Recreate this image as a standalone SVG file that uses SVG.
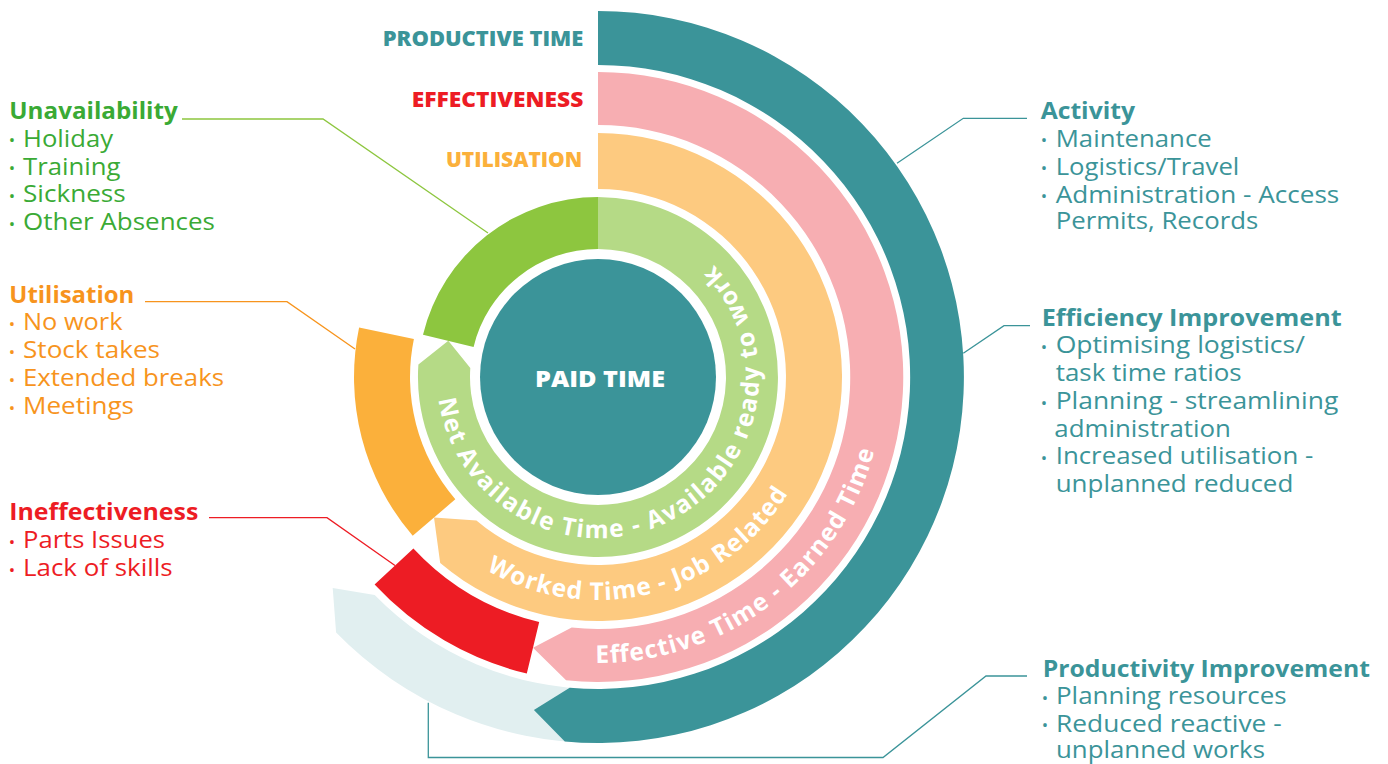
<svg xmlns="http://www.w3.org/2000/svg" width="1388" height="764" viewBox="0 0 1388 764">
  <defs>
    <style>
      text { font-family: "Open Sans", "Liberation Sans", sans-serif; }
      .hd { font-weight: 700; font-size: 23.5px; }
      .it { font-size: 23.5px; }
      .bl { font-size: 17px; text-anchor: middle; }
      .arc-label { font-weight: 700; font-size: 24.5px; fill: #ffffff; }
      .top { font-weight: 800; font-size: 20.5px; }
      .c-teal { fill: #3B9499; }
      .c-green { fill: #3AAA35; }
      .c-orange { fill: #F7941D; }
      .c-red { fill: #ED1C24; }
      .c-amber { fill: #FBB03B; }
      .conn { fill: none; stroke-width: 1.3; }
    </style>
    <!-- baselines for the curved ring captions, running anticlockwise -->
    <path id="arc-net" d="M438.6,399.4 A161,161 0 1 0 701.5,253.7"/>
    <path id="arc-worked" d="M486.5,570.1 A223,223 0 0 0 807.5,453.3"/>
    <path id="arc-effective" d="M595.5,663 A286,286 0 0 0 882.9,401.9"/>
  </defs>

  <!-- faint continuation band behind the productive ring -->
  <g id="band-ghost">
    <path d="M598,743 A366,366 0 0 1 336.1,632.6 L332.7,588 L374.7,594.9 A312,312 0 0 0 598,689 Z" fill="#E1EFF0"/>
  </g>

  <!-- outer ring: productive time -->
  <g id="ring-productive">
    <path d="M598,11 A366,366 0 1 1 564.8,741.5 L533.9,709.9 L569.7,687.7 A312,312 0 1 0 598,65 Z" fill="#3B9499"/>
  </g>

  <!-- ring: effective time -->
  <g id="ring-effective">
    <path d="M598,72 A305,305 0 1 1 566.1,680.3 L533,647.8 L571.7,627.6 A252,252 0 1 0 598,125 Z" fill="#F7AEB2"/>
    <text class="arc-label"><textPath href="#arc-effective" textLength="377" lengthAdjust="spacing">Effective Time - Earned Time</textPath></text>
  </g>

  <g id="loss-ineffectiveness">
    <path d="M526.8,673.6 A305,305 0 0 1 374.6,584.6 L413.4,548.5 A252,252 0 0 0 539.2,622 Z" fill="#ED1C24"/>
  </g>

  <!-- ring: worked time -->
  <g id="ring-worked">
    <path d="M598,133 A244,244 0 1 1 440.2,563.1 L434,517.6 L476.4,520.4 A188,188 0 1 0 598,189 Z" fill="#FDCA80"/>
    <text class="arc-label"><textPath href="#arc-worked" textLength="344" lengthAdjust="spacing">Worked Time - Job Related</textPath></text>
  </g>

  <g id="loss-utilisation">
    <path d="M412.7,535.8 A244,244 0 0 1 359.1,327.5 L413.9,338.9 A188,188 0 0 0 455.3,499.3 Z" fill="#FBB03B"/>
  </g>

  <!-- ring: net available time -->
  <g id="ring-available">
    <path d="M598,197 A180,180 0 1 1 418.4,364.4 L448.3,340.8 L470.3,368.1 A128,128 0 1 0 598,249 Z" fill="#B5DA86"/>
    <text class="arc-label"><textPath href="#arc-net" textLength="607" lengthAdjust="spacing">Net Available Time - Available ready to work</textPath></text>
  </g>

  <g id="loss-unavailability">
    <path d="M423,334.7 A180,180 0 0 1 598,197 L598,249 A128,128 0 0 0 473.6,346.9 Z" fill="#8DC63F"/>
  </g>

  <g id="paid-time">
    <circle cx="598" cy="377" r="118" fill="#3B9499"/>
    <text x="535" y="386.7" font-weight="800" font-size="22.5" fill="#ffffff" textLength="130" lengthAdjust="spacingAndGlyphs">PAID TIME</text>
  </g>

  <!-- ring titles -->
  <g id="title-productive">
    <text class="top c-teal" x="382.7" y="46" textLength="200.6" lengthAdjust="spacingAndGlyphs">PRODUCTIVE TIME</text>
  </g>
  <g id="title-effectiveness">
    <text class="top c-red" x="411.7" y="107.3" textLength="171.6" lengthAdjust="spacingAndGlyphs">EFFECTIVENESS</text>
  </g>
  <g id="title-utilisation">
    <text class="top c-amber" x="446" y="166.7" textLength="136.3" lengthAdjust="spacingAndGlyphs">UTILISATION</text>
  </g>

  <!-- leader lines -->
  <g id="connectors">
    <path class="conn" stroke="#8DC63F" d="M182,119 H323 L488,233"/>
    <path class="conn" stroke="#F7941D" d="M145,301.7 H287 L355,349"/>
    <path class="conn" stroke="#ED1C24" d="M209,517.7 H327 L395,565.5"/>
    <path class="conn" stroke="#3B9499" d="M897,163.3 L963.3,118.3 H1027"/>
    <path class="conn" stroke="#3B9499" d="M963.3,353.3 L1004,325.7 H1030"/>
    <path class="conn" stroke="#3B9499" d="M428.3,702.7 V757.5 H883 L986,676 H1027"/>
  </g>

  <!-- left-hand notes -->
  <g id="label-unavailability" class="c-green">
    <text class="hd" x="9.3" y="119.3" textLength="168.4" lengthAdjust="spacingAndGlyphs">Unavailability</text>
    <text class="bl" x="12" y="146.2">•</text><text class="it" x="23" y="146.7" textLength="90" lengthAdjust="spacingAndGlyphs">Holiday</text>
    <text class="bl" x="12" y="174">•</text><text class="it" x="23" y="174.5" textLength="97.5" lengthAdjust="spacingAndGlyphs">Training</text>
    <text class="bl" x="12" y="201.8">•</text><text class="it" x="23" y="202.3" textLength="102.7" lengthAdjust="spacingAndGlyphs">Sickness</text>
    <text class="bl" x="12" y="229.6">•</text><text class="it" x="23" y="230.1" textLength="192" lengthAdjust="spacingAndGlyphs">Other Absences</text>
  </g>

  <g id="label-utilisation" class="c-orange">
    <text class="hd" x="9.3" y="302.5" textLength="125" lengthAdjust="spacingAndGlyphs">Utilisation</text>
    <text class="bl" x="12" y="329.5">•</text><text class="it" x="23" y="330" textLength="99.5" lengthAdjust="spacingAndGlyphs">No work</text>
    <text class="bl" x="12" y="357.5">•</text><text class="it" x="23" y="358" textLength="137" lengthAdjust="spacingAndGlyphs">Stock takes</text>
    <text class="bl" x="12" y="385.5">•</text><text class="it" x="23" y="386" textLength="201" lengthAdjust="spacingAndGlyphs">Extended breaks</text>
    <text class="bl" x="12" y="413.5">•</text><text class="it" x="23" y="414" textLength="111" lengthAdjust="spacingAndGlyphs">Meetings</text>
  </g>

  <g id="label-ineffectiveness" class="c-red">
    <text class="hd" x="9.3" y="520" textLength="189" lengthAdjust="spacingAndGlyphs">Ineffectiveness</text>
    <text class="bl" x="12" y="547.5">•</text><text class="it" x="23" y="548" textLength="142" lengthAdjust="spacingAndGlyphs">Parts Issues</text>
    <text class="bl" x="12" y="575.5">•</text><text class="it" x="23" y="576" textLength="149.7" lengthAdjust="spacingAndGlyphs">Lack of skills</text>
  </g>

  <!-- right-hand notes -->
  <g id="label-activity" class="c-teal">
    <text class="hd" x="1040.7" y="119" textLength="94.3" lengthAdjust="spacingAndGlyphs">Activity</text>
    <text class="bl" x="1044" y="146.2">•</text><text class="it" x="1055.7" y="146.7" textLength="156" lengthAdjust="spacingAndGlyphs">Maintenance</text>
    <text class="bl" x="1044" y="174.2">•</text><text class="it" x="1055.7" y="174.7" textLength="183.6" lengthAdjust="spacingAndGlyphs">Logistics/Travel</text>
    <text class="bl" x="1044" y="202.2">•</text><text class="it" x="1055.7" y="202.7" textLength="283.6" lengthAdjust="spacingAndGlyphs">Administration - Access</text>
    <text class="it" x="1055.7" y="229.3" textLength="202.6" lengthAdjust="spacingAndGlyphs">Permits, Records</text>
  </g>

  <g id="label-efficiency" class="c-teal">
    <text class="hd" x="1041.7" y="326" textLength="300" lengthAdjust="spacingAndGlyphs">Efficiency Improvement</text>
    <text class="bl" x="1044" y="352.8">•</text><text class="it" x="1055.7" y="353.3" textLength="249.3" lengthAdjust="spacingAndGlyphs">Optimising logistics/</text>
    <text class="it" x="1055.7" y="381.3" textLength="186" lengthAdjust="spacingAndGlyphs">task time ratios</text>
    <text class="bl" x="1044" y="408.5">•</text><text class="it" x="1055.7" y="409" textLength="282.6" lengthAdjust="spacingAndGlyphs">Planning - streamlining</text>
    <text class="it" x="1054.3" y="436.7" textLength="176.7" lengthAdjust="spacingAndGlyphs">administration</text>
    <text class="bl" x="1044" y="463.5">•</text><text class="it" x="1055.7" y="464" textLength="257.6" lengthAdjust="spacingAndGlyphs">Increased utilisation -</text>
    <text class="it" x="1055.7" y="491.7" textLength="237.6" lengthAdjust="spacingAndGlyphs">unplanned reduced</text>
  </g>

  <g id="label-productivity" class="c-teal">
    <text class="hd" x="1042.7" y="676.7" textLength="327.3" lengthAdjust="spacingAndGlyphs">Productivity Improvement</text>
    <text class="bl" x="1045" y="703.5">•</text><text class="it" x="1056" y="704" textLength="230.7" lengthAdjust="spacingAndGlyphs">Planning resources</text>
    <text class="bl" x="1045" y="731.2">•</text><text class="it" x="1056" y="731.7" textLength="225.7" lengthAdjust="spacingAndGlyphs">Reduced reactive -</text>
    <text class="it" x="1056" y="758.3" textLength="209" lengthAdjust="spacingAndGlyphs">unplanned works</text>
  </g>
</svg>
